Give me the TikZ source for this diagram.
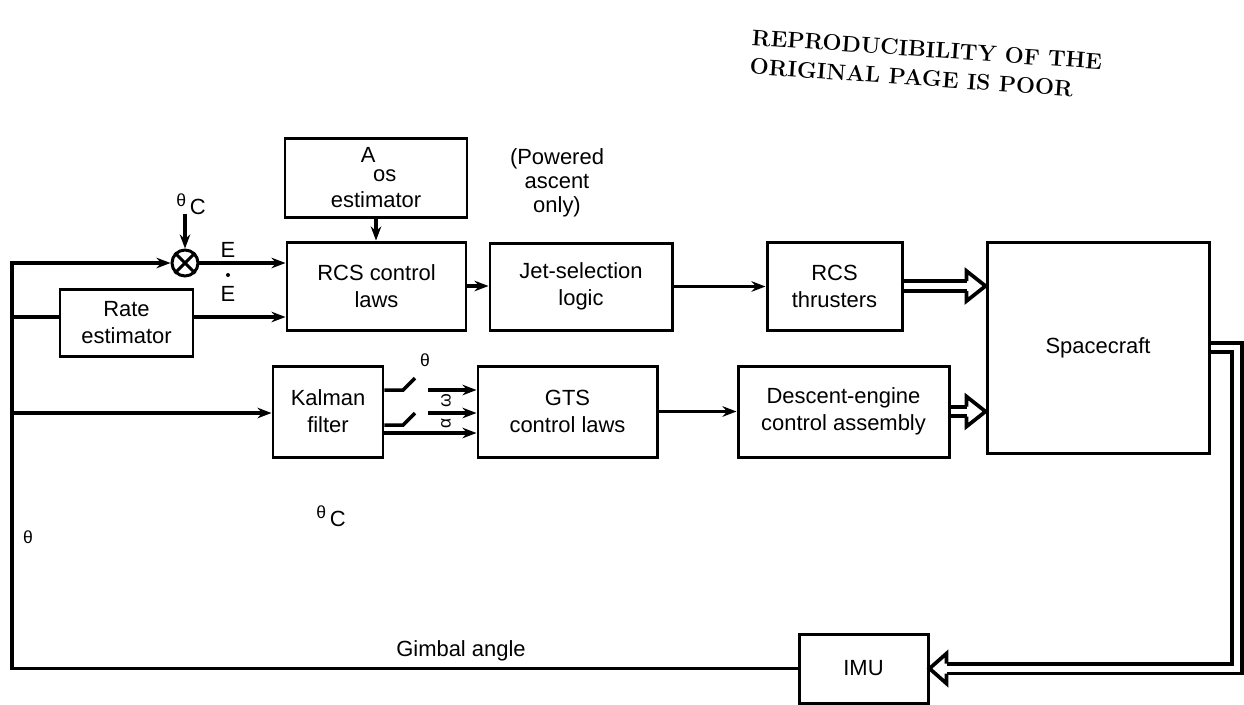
\documentclass[tikz,border=0pt]{standalone}
\usepackage{fontspec}
\setsansfont{Liberation Sans}
\usetikzlibrary{arrows.meta,calc}
\newlength\pxu
\setlength\pxu{0.02cm}
\begin{document}
\begin{tikzpicture}[x=0.02cm,y=-0.02cm,
  box/.style={draw,line width=1.7pt,align=center,inner sep=0pt,
    font=\sffamily\fontsize{12.5}{15.3}\selectfont},
  lbl/.style={font=\sffamily\fontsize{12.5}{15.3}\selectfont,inner sep=0pt},
  small/.style={font=\sffamily\fontsize{10}{12}\selectfont,inner sep=0pt},
  plain/.style={line width=2pt},
  conn/.style={line width=2pt,-{Stealth[length=8pt,width=6pt]}},
  dbl/.style={double,double distance=3.4pt,line width=2.1pt,line join=miter},
  head/.style={line width=2.1pt,line join=miter}
]
\useasboundingbox (0,0) rectangle (1244,704);

% header
\node[font=\bfseries\addfontfeature{FakeBold=1.2}\fontsize{12.8}{16.5}\selectfont,align=left,rotate=-4,inner sep=0pt] (hdr) at (926,64)
  {REPRODUCIBILITY OF THE\\ORIGINAL PAGE IS POOR};

% boxes
\node[box,minimum width=182\pxu,minimum height=79\pxu] (aos) at (376,177.5)
  {\hspace*{-0.72em}A\\[-4.5pt]\hspace*{0.8em}os\\[-1pt]estimator};
\node[lbl,align=center,font=\sffamily\fontsize{12.5}{13.6}\selectfont] (pw) at (557,183) {(Powered\\ascent\\only)};
\node[box,minimum width=133\pxu,minimum height=67\pxu] (rate) at (126.5,322.5) {Rate\\estimator};
\node[box,minimum width=179\pxu,minimum height=88\pxu] (rcsl) at (376.5,286) {RCS control\\laws};
\node[box,minimum width=182\pxu,minimum height=87\pxu] (jet) at (581,286.5) {Jet-selection\\logic};
\node[box,minimum width=135\pxu,minimum height=88\pxu] (thr) at (834.5,286) {RCS\\thrusters};
\node[box,minimum width=222\pxu,minimum height=211\pxu] (sc) at (1098,347.5) {Spacecraft};
\node[box,minimum width=110\pxu,minimum height=91\pxu] (kal) at (328,411.5) {Kalman\\filter};
\node[box,minimum width=179\pxu,minimum height=91\pxu] (gts) at (567.5,411.5) {GTS\\control laws};
\node[box,minimum width=211\pxu,minimum height=91\pxu] (des) at (843.5,411.5) {Descent-engine\\control assembly};
\node[box,minimum width=129\pxu,minimum height=69\pxu] (imu) at (863.5,668.5) {IMU};

% summing junction
\node[circle,draw,line width=1.7pt,minimum size=26\pxu,inner sep=0pt] (sum) at (185,263) {};
\draw[line width=1.7pt] (sum.north west) -- (sum.south east) (sum.north east) -- (sum.south west);
\node[lbl] (thc) at (191,204) {\raisebox{0.7ex}{\fontsize{10}{12}\selectfont θ}\,C};
\coordinate (thcb) at (185,214);
\draw[conn] (thcb) -- (sum.north);

% E labels
\node[lbl] (e1) at (228,250) {E};
\node[circle,fill,inner sep=0pt,minimum size=4\pxu] (edot) at (228,275) {};
\node[lbl] (e2) at (228,294) {E};

% feedback
\coordinate (fl) at (12,263);
\coordinate (fb) at (12,668.5);
\draw[conn] (imu.west) -- (fb) -- (fl) -- (sum.west);
\draw[conn] (sum.east) -- (sum.east -| rcsl.west);
\coordinate (br1) at (12,317);
\draw[plain] (br1) -- (br1 -| rate.west);
\draw[conn] (rate.east |- br1) -- (rcsl.west |- br1);
\coordinate (br2) at (12,413);
\draw[conn] (br2) -- (br2 -| kal.west);

\draw[conn] (aos.south) -- (aos.south |- rcsl.north);
\draw[conn] (rcsl.east) -- (rcsl.east -| jet.west);
\draw[conn] (jet.east) -- (jet.east -| thr.west);
\draw[conn] (gts.east) -- (des.west);

% Kalman switches
\coordinate (s1a) at (403,390); \coordinate (s1b) at (415,378); \coordinate (s1c) at (428,390);
\coordinate (s2a) at (403,425); \coordinate (s2b) at (415,413); \coordinate (s2c) at (428,413);
\coordinate (d3) at (383,433);
\draw[plain] (kal.east |- s1a) -- (s1a) -- (s1b);
\draw[conn] (s1c) -- (s1c -| gts.west);
\draw[plain] (kal.east |- s2a) -- (s2a) -- (s2b);
\draw[conn] (s2c) -- (s2c -| gts.west);
\draw[conn] (kal.east |- d3) -- (d3 -| gts.west);
\node[small] (th1) at (425,360) {θ};
\node[small,rotate=90] (om) at (446,401) {ω};
\node[small,rotate=90] (al) at (446,423) {α};

% free labels
\node[lbl] (thc2) at (331,516) {\raisebox{0.7ex}{\fontsize{10}{12}\selectfont θ}\,C};
\node[small] (thl) at (28,537) {θ};
\node[lbl] (gimbal) at (461,651) {Gimbal angle};

% hollow double arrows
\coordinate (t1) at (sc.west |- thr.east);
\draw[dbl] (thr.east) -- ($(t1)+(-19,0)$);
\draw[head] ($(t1)+(-19,-5)$) -- ($(t1)+(-19,-15)$) -- (t1) -- ($(t1)+(-19,15)$) -- ($(t1)+(-19,5)$);
\coordinate (t2) at (sc.west |- des.east);
\draw[dbl] (des.east) -- ($(t2)+(-19,0)$);
\draw[head] ($(t2)+(-19,-5)$) -- ($(t2)+(-19,-15)$) -- (t2) -- ($(t2)+(-19,15)$) -- ($(t2)+(-19,5)$);
\coordinate (rc1) at (1237,347.5);
\coordinate (rc2) at (1237,668.5);
\draw[dbl] (sc.east) -- (rc1) -- (rc2) -- ($(imu.east)+(17,0)$);
\draw[head] ($(imu.east)+(17,-5)$) -- ($(imu.east)+(17,-15)$) -- (imu.east) -- ($(imu.east)+(17,15)$) -- ($(imu.east)+(17,5)$);
\end{tikzpicture}
\end{document}
